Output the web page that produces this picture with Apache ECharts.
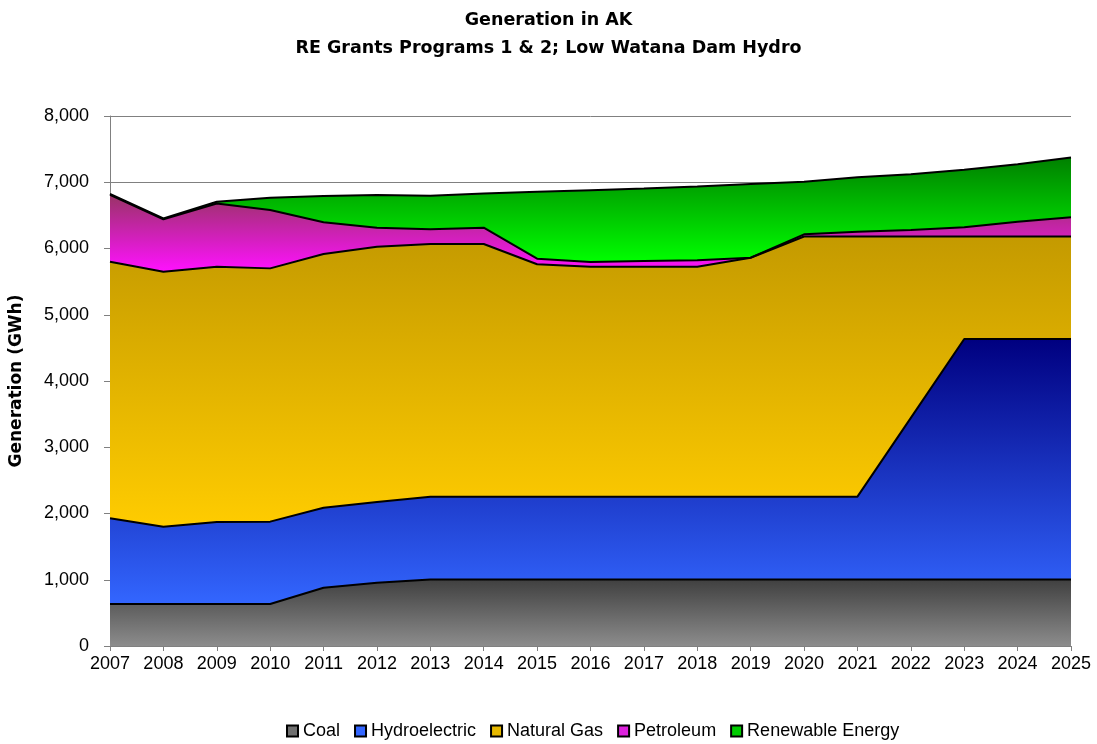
<!DOCTYPE html>
<html>
<head>
<meta charset="utf-8">
<script src="https://cdn.jsdelivr.net/npm/echarts@6/dist/echarts.min.js"></script>
<style>
  html, body { margin: 0; padding: 0; background: #fff; }
  #chart { width: 1097px; height: 744px; }
</style>
</head>
<body>
<div id="chart"></div>
<script>
// data (GWh)
const years = ['2007', '2008', '2009', '2010', '2011', '2012', '2013', '2014', '2015', '2016',
  '2017', '2018', '2019', '2020', '2021', '2022', '2023', '2024', '2025'];
const coal = [634, 634, 634, 634, 880, 956, 1005, 1005, 1005, 1005,
  1005, 1005, 1005, 1005, 1005, 1005, 1005, 1005, 1005];
const hydro = [1293, 1167, 1238, 1243, 1208, 1218, 1249, 1249, 1249, 1249,
  1249, 1249, 1249, 1249, 1249, 2439, 3629, 3629, 3629];
const naturalGas = [3873, 3849, 3853, 3823, 3829, 3853, 3814, 3814, 3508, 3471,
  3471, 3471, 3607, 3927, 3927, 2737, 1547, 1547, 1547];
const petroleum = [1010, 790, 955, 881, 478, 287, 222, 247, 84, 71,
  86, 96, 0, 33, 73, 99, 139, 224, 290];
const renewable = [15, 15, 26, 186, 397, 494, 507, 515, 1009, 1084,
  1094, 1114, 1114, 795, 821, 840, 870, 865, 904];

const font = '"Liberation Sans", Arial, sans-serif';
const wideFont = '"DejaVu Sans", sans-serif';

const grad = (top, bottom) => new echarts.graphic.LinearGradient(0, 0, 0, 1, [
  { offset: 0, color: top },
  { offset: 1, color: bottom }
]);

const mkSeries = (name, data, solid, top, bottom) => ({
  name: name,
  type: 'line',
  stack: 'total',
  data: data,
  symbol: 'none',
  z: 2,
  itemStyle: { color: solid, borderColor: '#000', borderWidth: 1 },
  lineStyle: { color: '#000', width: 2 },
  areaStyle: { color: grad(top, bottom), opacity: 1 },
  emphasis: { disabled: true }
});

const myChart = echarts.init(document.getElementById('chart'));

const option = {
  animation: false,
  backgroundColor: '#fff',
  title: {
    text: 'Generation in AK\nRE Grants Programs 1 & 2; Low Watana Dam Hydro',
    left: 'center',
    top: 1,
    textStyle: { fontFamily: wideFont, fontSize: 17.5, fontWeight: 'bold', color: '#000', lineHeight: 28 }
  },
  legend: {
    top: 717,
    left: 281,
    icon: 'rect',
    itemWidth: 11,
    itemHeight: 11,
    itemGap: 14,
    textStyle: { fontFamily: font, fontSize: 18, color: '#000' },
    data: ['Coal', 'Hydroelectric', 'Natural Gas', 'Petroleum', 'Renewable Energy']
  },
  grid: { left: 109, right: 26, top: 116, bottom: 98, containLabel: false },
  xAxis: {
    type: 'category',
    data: years,
    boundaryGap: false,
    axisLine: { lineStyle: { color: '#808080', width: 1 } },
    axisTick: { show: true, length: 5, lineStyle: { color: '#808080' } },
    axisLabel: { fontFamily: font, fontSize: 18, color: '#000', margin: 9 },
    z: 5
  },
  yAxis: {
    type: 'value',
    min: 0,
    max: 8000,
    interval: 1000,
    name: 'Generation (GWh)',
    nameLocation: 'middle',
    nameGap: 85,
    nameTextStyle: { fontFamily: wideFont, fontSize: 17, fontWeight: 'bold', color: '#000' },
    axisLine: { show: true, lineStyle: { color: '#808080', width: 1 } },
    axisTick: { show: true, length: 6, lineStyle: { color: '#808080' } },
    axisLabel: {
      fontFamily: font, fontSize: 18, color: '#000', margin: 21,
      formatter: v => v.toLocaleString('en-US')
    },
    splitLine: { lineStyle: { color: '#808080', width: 1 } }
  },
  series: [
    mkSeries('Coal', coal, '#707070', '#404040', '#8c8c8c'),
    mkSeries('Hydroelectric', hydro, '#3366ff', '#000080', '#3366ff'),
    mkSeries('Natural Gas', naturalGas, '#e6b800', '#c49a00', '#ffcc00'),
    mkSeries('Petroleum', petroleum, '#dd22dd', '#993366', '#ff11ff'),
    mkSeries('Renewable Energy', renewable, '#00cc00', '#008000', '#00ff00')
  ]
};

myChart.setOption(option);
</script>
</body>
</html>
